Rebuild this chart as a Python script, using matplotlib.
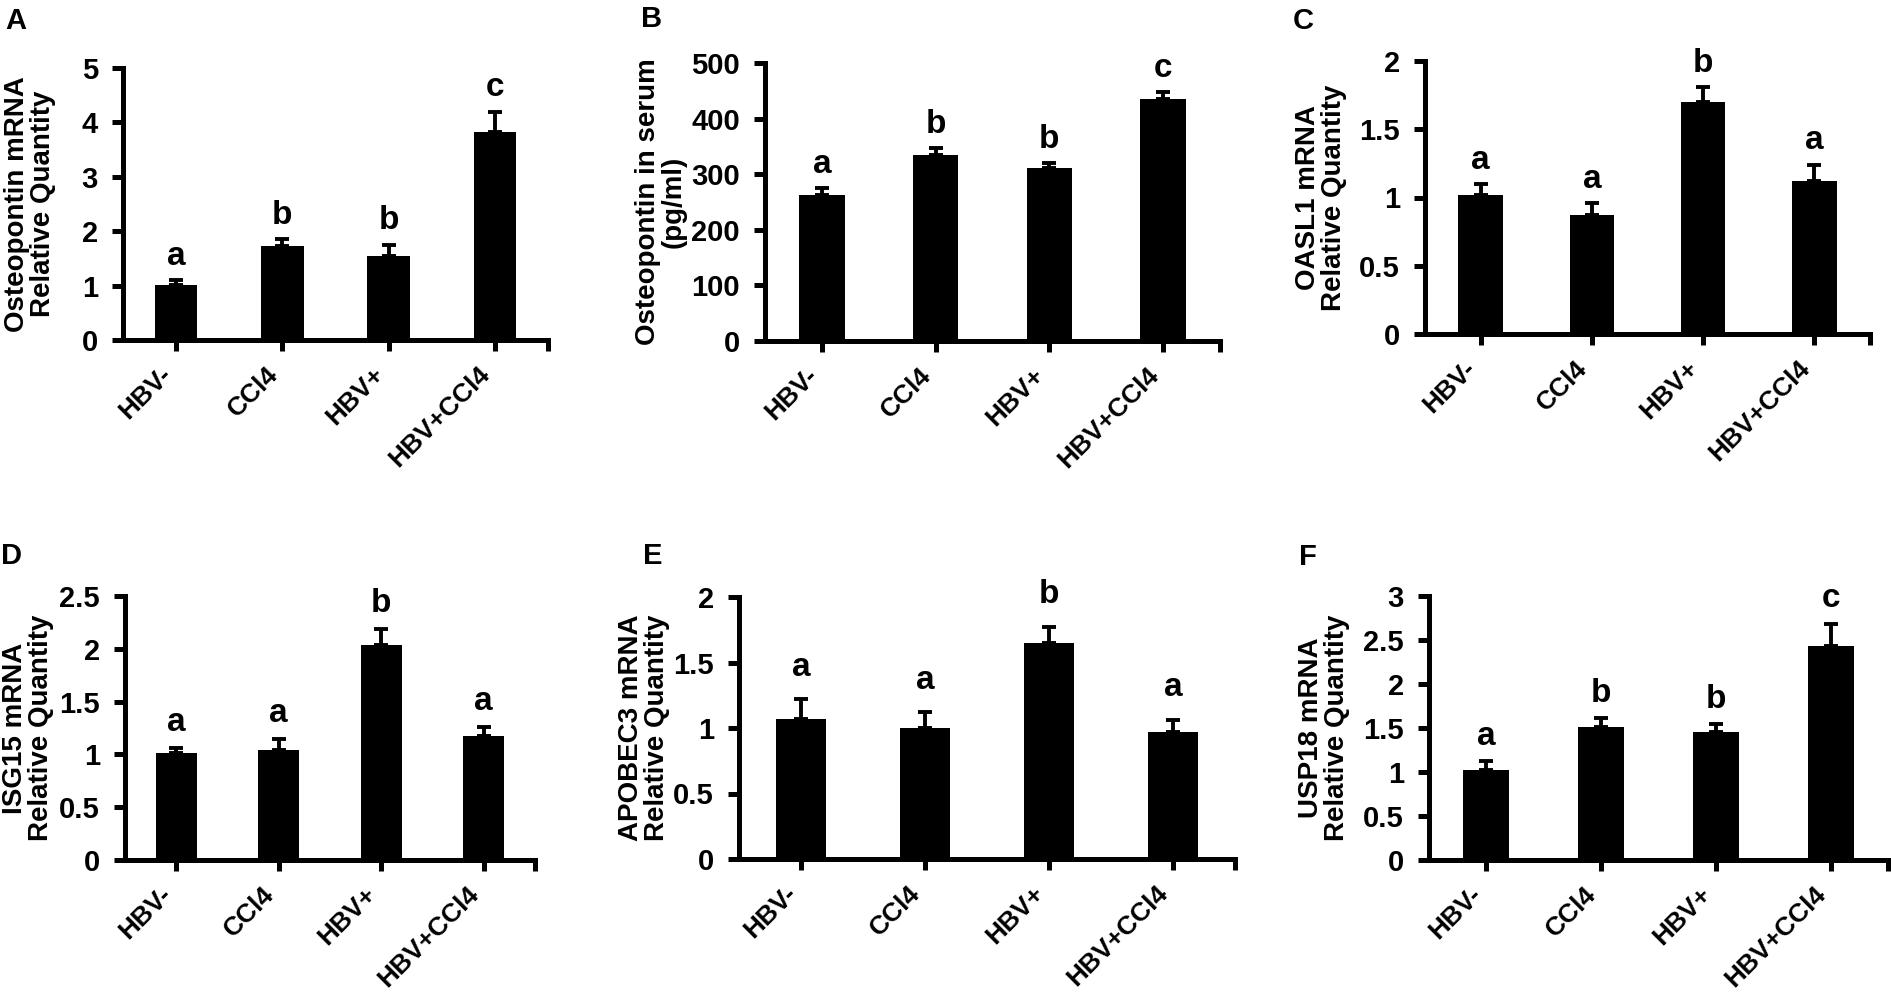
import matplotlib
matplotlib.use("Agg")
import matplotlib.pyplot as plt
from matplotlib.ticker import FuncFormatter, FixedLocator
import numpy as np

plt.rcParams['font.family'] = ['Liberation Sans', 'DejaVu Sans']
plt.rcParams['font.weight'] = 'bold'

groups = ["HBV-", "CCl4", "HBV+", "HBV+CCl4"]

# Panel A: Osteopontin mRNA
a_vals = [1.01, 1.73, 1.55, 3.82]
a_err = [0.09, 0.12, 0.20, 0.38]
a_sig = ["a", "b", "b", "c"]
# Panel B: Osteopontin in serum
b_vals = [263, 335, 312, 435]
b_err = [12, 12, 8, 13]
b_sig = ["a", "b", "b", "c"]
# Panel C: OASL1 mRNA
c_vals = [1.02, 0.87, 1.70, 1.12]
c_err = [0.08, 0.09, 0.11, 0.12]
c_sig = ["a", "a", "b", "a"]
# Panel D: ISG15 mRNA
d_vals = [1.01, 1.04, 2.04, 1.17]
d_err = [0.05, 0.11, 0.15, 0.09]
d_sig = ["a", "a", "b", "a"]
# Panel E: APOBEC3 mRNA
e_vals = [1.07, 1.00, 1.65, 0.97]
e_err = [0.15, 0.12, 0.12, 0.09]
e_sig = ["a", "a", "b", "a"]
# Panel F: USP18 mRNA
f_vals = [1.02, 1.515, 1.45, 2.43]
f_err = [0.10, 0.095, 0.09, 0.25]
f_sig = ["a", "b", "b", "c"]

W, H = 1891, 999
fig = plt.figure(figsize=(W / 100, H / 100), dpi=100)

panels = [
    dict(tag="A", vals=a_vals, err=a_err, sig=a_sig, ymax=5, step=1,
         ylabel="Osteopontin mRNA\nRelative Quantity",
         box=(123, 548, 68, 340), lab_x=30, tag_xy=(5, 7), sig_off=6),
    dict(tag="B", vals=b_vals, err=b_err, sig=b_sig, ymax=500, step=100,
         ylabel="Osteopontin in serum\n(pg/ml)",
         box=(765, 1220, 63, 341), lab_x=661, tag_xy=(641, 5), sig_off=6),
    dict(tag="C", vals=c_vals, err=c_err, sig=c_sig, ymax=2, step=0.5,
         ylabel="OASL1 mRNA\nRelative Quantity",
         box=(1425, 1870, 61, 334), lab_x=1321, tag_xy=(1293, 7), sig_off=6),
    dict(tag="D", vals=d_vals, err=d_err, sig=d_sig, ymax=2.5, step=0.5,
         ylabel="ISG15 mRNA\nRelative Quantity",
         box=(125, 535, 596, 860), lab_x=28, tag_xy=(1, 542), sig_off=7),
    dict(tag="E", vals=e_vals, err=e_err, sig=e_sig, ymax=2, step=0.5,
         ylabel="APOBEC3 mRNA\nRelative Quantity",
         box=(739, 1235, 597, 859), lab_x=644, tag_xy=(643, 542), sig_off=12),
    dict(tag="F", vals=f_vals, err=f_err, sig=f_sig, ymax=3, step=0.5,
         ylabel="USP18 mRNA\nRelative Quantity",
         box=(1429, 1888, 596, 860), lab_x=1324, tag_xy=(1299, 543), sig_off=7),
]

LW = 3.6
fmt = FuncFormatter(lambda v, p: "{:g}".format(v))

for p in panels:
    left, right, top, bottom = p["box"]
    ax = fig.add_axes([left / W, 1 - bottom / H, (right - left) / W, (bottom - top) / H])
    x = np.arange(len(groups))
    ax.bar(x, p["vals"], width=0.4, color="black", zorder=2)
    ax.errorbar(x, p["vals"], yerr=[np.zeros(len(x)), p["err"]], fmt="none",
                ecolor="black", elinewidth=2.8, capsize=5, capthick=2.8, zorder=3)
    for xi, v, e, s in zip(x, p["vals"], p["err"], p["sig"]):
        ax.annotate(s, (xi, v + e), xytext=(0, p["sig_off"]), textcoords="offset points",
                    ha="center", va="bottom", fontsize=24, fontweight="bold")
    ax.set_xlim(-0.5, 3.5)
    ax.set_ylim(0, p["ymax"])
    ax.set_yticks(np.arange(0, p["ymax"] + p["step"] / 2, p["step"]))
    ax.yaxis.set_major_formatter(fmt)
    ax.set_xticks(x)
    ax.set_xticklabels(groups, rotation=45, ha="right", fontsize=19, fontweight="bold")
    ax.xaxis.set_minor_locator(FixedLocator([3.5]))
    for side in ("top", "right"):
        ax.spines[side].set_visible(False)
    for side in ("left", "bottom"):
        ax.spines[side].set_linewidth(LW)
        ax.spines[side].set_capstyle("projecting")
    ax.tick_params(axis="both", which="both", direction="out", length=8, width=LW,
                   color="black")
    ax.tick_params(axis="y", labelsize=21, pad=10)
    ax.tick_params(axis="x", pad=8)
    ax.tick_params(axis="x", which="minor", length=8)
    for t in ax.get_yticklabels():
        t.set_fontweight("bold")
    ax.set_ylabel(p["ylabel"], fontsize=20, fontweight="bold", linespacing=1.0)
    ax.yaxis.label.set_va("center")
    ax.yaxis.set_label_coords((p["lab_x"] - left) / (right - left), 0.5)
    fig.text(p["tag_xy"][0] / W, 1 - p["tag_xy"][1] / H, p["tag"], ha="left", va="top",
             fontsize=21, fontweight="bold")

fig.savefig("out.png", dpi=100)
